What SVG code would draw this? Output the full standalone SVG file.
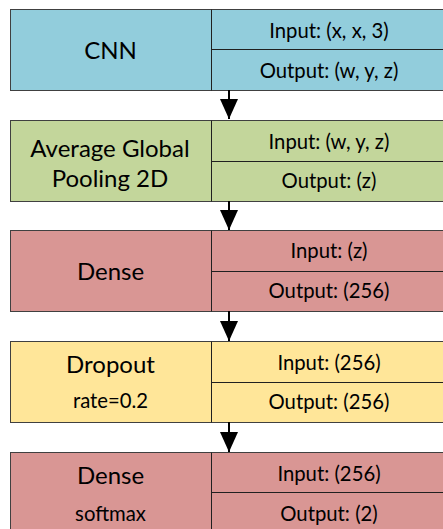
<svg xmlns="http://www.w3.org/2000/svg" width="443" height="529" viewBox="0 0 443 529">
  <style>
    .box { stroke: #404040; stroke-width: 1; }
    .div { stroke: #202020; stroke-width: 1; fill: none; }
    .t { font-family: Lato, "Open Sans", sans-serif; fill: #000; text-anchor: middle; }
    .big { font-size: 24px; }
    .sm { font-size: 20.3px; }
    .blue { fill: #92CDDC; }
    .green { fill: #C3D69B; }
    .red { fill: #D99694; }
    .yellow { fill: #FFE699; }
    .conn { stroke: #000; stroke-width: 2; fill: none; }
  </style>
  <defs>
    <marker id="ah" markerWidth="20" markerHeight="18" refX="20" refY="9" orient="auto" markerUnits="userSpaceOnUse" viewBox="0 0 20 18">
      <path d="M0,0 L20,9 L0,18 Z" fill="#000"/>
    </marker>
  </defs>

  <g id="node-cnn">
    <rect class="box blue" x="10.5" y="9.5" width="440" height="81"/>
    <line class="div" x1="211.5" y1="9.5" x2="211.5" y2="90.5"/>
    <line class="div" x1="211.5" y1="49.5" x2="450" y2="49.5"/>
    <text class="t big" x="110.5" y="59">CNN</text>
    <text class="t sm" x="329" y="37.5">Input: (x, x, 3)</text>
    <text class="t sm" x="329" y="78">Output: (w, y, z)</text>
  </g>

  <g id="node-pool">
    <rect class="box green" x="10.5" y="120.5" width="440" height="81"/>
    <line class="div" x1="211.5" y1="120.5" x2="211.5" y2="201.5"/>
    <line class="div" x1="211.5" y1="161.5" x2="450" y2="161.5"/>
    <text class="t big" x="110" y="157">Average Global</text>
    <text class="t big" x="110" y="186.5">Pooling 2D</text>
    <text class="t sm" x="329" y="148.5">Input: (w, y, z)</text>
    <text class="t sm" x="329" y="188">Output: (z)</text>
  </g>

  <g id="node-dense1">
    <rect class="box red" x="10.5" y="230.5" width="440" height="81"/>
    <line class="div" x1="211.5" y1="230.5" x2="211.5" y2="311.5"/>
    <line class="div" x1="211.5" y1="271.5" x2="450" y2="271.5"/>
    <text class="t big" x="110.5" y="280">Dense</text>
    <text class="t sm" x="329" y="257.5">Input: (z)</text>
    <text class="t sm" x="329" y="298">Output: (256)</text>
  </g>

  <g id="node-dropout">
    <rect class="box yellow" x="10.5" y="341.5" width="440" height="81"/>
    <line class="div" x1="211.5" y1="341.5" x2="211.5" y2="422.5"/>
    <line class="div" x1="211.5" y1="382.5" x2="450" y2="382.5"/>
    <text class="t big" x="110.5" y="373">Dropout</text>
    <text class="t sm" x="110.5" y="408">rate=0.2</text>
    <text class="t sm" x="329" y="370">Input: (256)</text>
    <text class="t sm" x="329" y="409">Output: (256)</text>
  </g>

  <g id="node-dense2">
    <rect class="box red" x="10.5" y="452.5" width="440" height="90"/>
    <line class="div" x1="211.5" y1="452.5" x2="211.5" y2="540"/>
    <line class="div" x1="211.5" y1="492.5" x2="450" y2="492.5"/>
    <text class="t big" x="110.5" y="483.5">Dense</text>
    <text class="t sm" x="110.5" y="521">softmax</text>
    <text class="t sm" x="329" y="481">Input: (256)</text>
    <text class="t sm" x="329" y="521">Output: (2)</text>
  </g>

  <g id="connectors">
    <line class="conn" x1="229" y1="90" x2="229" y2="119" marker-end="url(#ah)"/>
    <line class="conn" x1="229" y1="201" x2="229" y2="230" marker-end="url(#ah)"/>
    <line class="conn" x1="229" y1="311" x2="229" y2="341" marker-end="url(#ah)"/>
    <line class="conn" x1="229" y1="422" x2="229" y2="452" marker-end="url(#ah)"/>
  </g>
</svg>
